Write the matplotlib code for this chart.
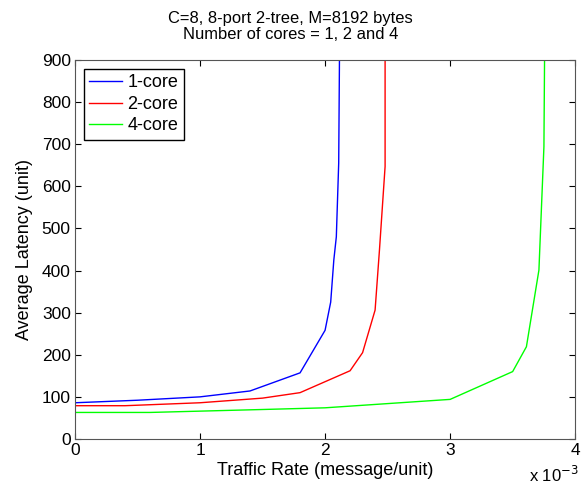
import matplotlib.pyplot as plt
import numpy as np

plt.rcParams['font.family'] = ['Liberation Sans', 'DejaVu Sans']

# traffic rate in units of 1e-3 message/unit
rate_1 = [0, 0.5, 1.0, 1.4, 1.8, 2.0, 2.045, 2.07, 2.09, 2.109, 2.115]
lat_1 = [86, 92, 100, 114, 157, 258, 325, 425, 480, 655, 900]

rate_2 = [0, 0.4, 1.0, 1.5, 1.8, 2.2, 2.3, 2.4, 2.435, 2.48, 2.48]
lat_2 = [79, 79, 86, 97, 110, 162, 205, 306, 449, 647, 900]

rate_4 = [0, 0.6, 1.5, 2.0, 3.0, 3.5, 3.61, 3.71, 3.75, 3.755]
lat_4 = [63, 63, 70, 74, 94, 160, 219, 401, 694, 900]

fig = plt.figure(figsize=(5.81, 4.87), dpi=100)
ax = fig.add_axes([0.129, 0.0986, 0.861, 0.7784])

ax.plot(rate_1, lat_1, color=(0, 0, 1), lw=1, label='1-core')
ax.plot(rate_2, lat_2, color=(1, 0, 0), lw=1, label='2-core')
ax.plot(rate_4, lat_4, color=(0, 1, 0), lw=1, label='4-core')

ax.set_xlim(0, 4)
ax.set_ylim(0, 900)
ax.set_xticks([0, 1, 2, 3, 4])
ax.set_yticks(np.arange(0, 901, 100))
ax.tick_params(direction='in', top=True, right=True, labelsize=12.5, length=4, pad=3)
for s in ax.spines.values():
    s.set_linewidth(0.8)
    s.set_color('#555555')

ax.set_xlabel('Traffic Rate (message/unit)', fontsize=13, labelpad=3)
ax.set_ylabel('Average Latency (unit)', fontsize=13, labelpad=6)
# title sits centred on the whole figure, as in the original
fig.suptitle('C=8, 8-port 2-tree, M=8192 bytes\nNumber of cores = 1, 2 and 4',
             fontsize=11.9, x=0.5, y=0.978, va='top', linespacing=1.12)
fig.text(0.91, 0.004, r'x 10$^{-3}$', ha='left', va='bottom', fontsize=12)

ax.legend(loc='upper left', fontsize=13, handlelength=1.8, handletextpad=0.3,
          fancybox=False, edgecolor='black', framealpha=1, borderpad=0.3,
          labelspacing=0.25, borderaxespad=0.5)

fig.savefig('out.png', dpi=100)
